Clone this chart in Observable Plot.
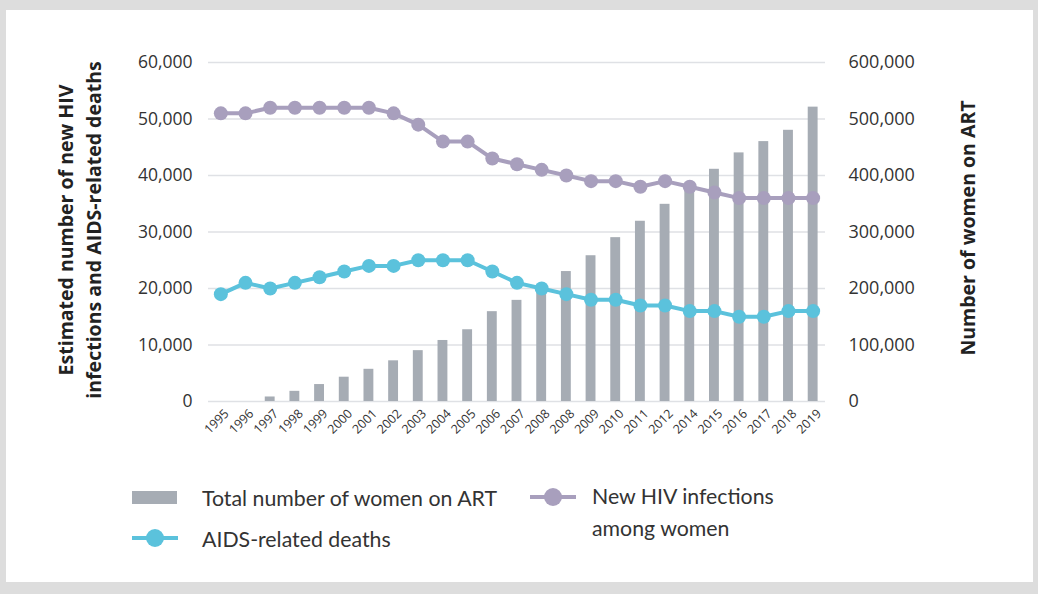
<!DOCTYPE html>
<html><head><meta charset="utf-8">
<script src="https://cdn.jsdelivr.net/npm/d3@7"></script>
<script src="https://cdn.jsdelivr.net/npm/@observablehq/plot@0.6"></script>
<style>
html,body{margin:0;padding:0;}
body{width:1038px;height:594px;background:#dddddd;position:relative;overflow:hidden;font-family:"Open Sans",sans-serif;}
#panel{position:absolute;left:6px;top:10px;width:1027px;height:572px;background:#fff;}
#chart{position:absolute;left:0;top:0;}
.ytitle{position:absolute;font-weight:700;font-size:19.5px;color:#222;white-space:nowrap;transform:rotate(-90deg);transform-origin:center;line-height:28px;text-align:center;}
.leg{position:absolute;font-family:Lato,sans-serif;font-size:21.3px;color:#333;white-space:nowrap;line-height:32px;}
.sw{position:absolute;}
</style>
</head>
<body>
<div id="panel"></div>
<div id="chart"></div>
<div class="ytitle" style="left:-90px;top:202px;width:340px;height:56px;">Estimated number of new HIV<br>infections and AIDS-related deaths</div>
<div class="ytitle" style="left:818px;top:214px;width:300px;height:28px;">Number of women on ART</div>
<svg class="sw" style="left:130px;top:485px" width="50" height="64">
  <rect x="2" y="6" width="45" height="13" fill="#a6acb4"></rect>
  <line x1="2" x2="48" y1="53" y2="53" stroke="#5bc2dc" stroke-width="4"></line>
  <circle cx="25" cy="53" r="9" fill="#5bc2dc"></circle>
</svg>
<svg class="sw" style="left:528px;top:485px" width="50" height="24">
  <line x1="2" x2="48" y1="12" y2="12" stroke="#a89fbd" stroke-width="4"></line>
  <circle cx="25" cy="12" r="9" fill="#a89fbd"></circle>
</svg>
<div class="leg" style="left:202px;top:482px;">Total number of women on ART</div>
<div class="leg" style="left:202px;top:523px;">AIDS-related deaths</div>
<div class="leg" style="left:592px;top:480px;">New HIV infections<br>among women</div>
<script>
const years = ["1995","1996","1997","1998","1999","2000","2001","2002","2003","2004","2005","2006","2007","2008","2008","2009","2010","2011","2012","2014","2015","2016","2017","2018","2019"];
const womenOnART = [0,0,8000,18000,30000,43000,57000,72000,90000,108000,127000,159000,179000,200000,230000,258000,290000,319000,349000,378000,411000,440000,460000,480000,521000];
const newInfections = [51000,51000,52000,52000,52000,52000,52000,51000,49000,46000,46000,43000,42000,41000,40000,39000,39000,38000,39000,38000,37000,36000,36000,36000,36000];
const aidsDeaths = [19000,21000,20000,21000,22000,23000,24000,24000,25000,25000,25000,23000,21000,20000,19000,18000,18000,17000,17000,16000,16000,15000,15000,16000,16000];
const leftTicks = [0,10000,20000,30000,40000,50000,60000];
const ratio = 10;

const idx = d3.range(years.length);
const rows = idx.map(i => ({i, art: womenOnART[i] / ratio, inf: newInfections[i], deaths: aidsDeaths[i]}));
const fmt = d3.format(",");

const chart = Plot.plot({
  width: 1038, height: 470,
  marginLeft: 208, marginRight: 213, marginTop: 62, marginBottom: 69,
  style: {fontFamily: "'Open Sans', sans-serif", fontSize: "16px", color: "#333", background: "transparent", overflow: "visible"},
  x: {type: "band", domain: idx, paddingInner: 0.6, paddingOuter: 0.3, round: false},
  y: {domain: [0, 60000]},
  marks: [
    Plot.ruleY(leftTicks, {stroke: "#dfe1e5", strokeWidth: 1.6}),
    Plot.axisY({anchor: "left", ticks: leftTicks, tickSize: 0, tickPadding: 16, tickFormat: fmt, label: null, fontSize: 17.5}),
    Plot.axisY({anchor: "right", ticks: leftTicks, tickSize: 0, tickPadding: 23, textAnchor: "start", tickFormat: d => fmt(d * ratio), label: null, fontSize: 18}),
    Plot.axisX({tickRotate: -45, tickSize: 0, tickPadding: 6, dx: 6, dy: 4, tickFormat: i => years[i], label: null, fontSize: 12.5}),
    Plot.barY(rows, {x: "i", y: "art", fill: "#a6acb4"}),
    Plot.line(rows, {x: "i", y: "inf", stroke: "#a89fbd", strokeWidth: 4}),
    Plot.dot(rows, {x: "i", y: "inf", fill: "#a89fbd", r: 7}),
    Plot.line(rows, {x: "i", y: "deaths", stroke: "#5bc2dc", strokeWidth: 4}),
    Plot.dot(rows, {x: "i", y: "deaths", fill: "#5bc2dc", r: 7})
  ]
});
document.getElementById("chart").appendChild(chart);
</script>
</body></html>
